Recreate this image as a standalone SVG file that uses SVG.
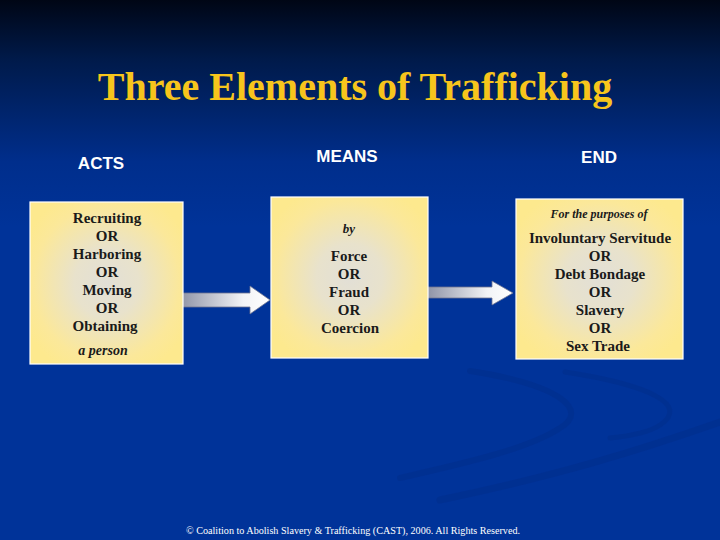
<svg xmlns="http://www.w3.org/2000/svg" width="720" height="540" viewBox="0 0 720 540">
<defs>
<linearGradient id="bg" x1="0" y1="0" x2="0" y2="1">
<stop offset="0" stop-color="#000615"/>
<stop offset="0.11" stop-color="#001a4a"/>
<stop offset="0.3" stop-color="#002e8c"/>
<stop offset="0.42" stop-color="#003399"/>
<stop offset="1" stop-color="#003399"/>
</linearGradient>
<radialGradient id="box" cx="0.5" cy="0.5" r="0.6">
<stop offset="0" stop-color="#e2dfd6"/>
<stop offset="0.35" stop-color="#e8e2cc"/>
<stop offset="0.8" stop-color="#fbe89a"/>
<stop offset="1" stop-color="#fde98e"/>
</radialGradient>
<linearGradient id="arr" x1="0" y1="0" x2="1" y2="0">
<stop offset="0" stop-color="#8e93a6"/>
<stop offset="0.7" stop-color="#f2f3f6"/>
<stop offset="1" stop-color="#ffffff"/>
</linearGradient>
<style>
.box{fill:url(#box);stroke:#ffffff;stroke-width:1.2}
.serif{font-family:"Liberation Serif","Times New Roman","DejaVu Serif",serif}
.t{font-family:"Liberation Serif","Times New Roman","DejaVu Serif",serif;font-weight:bold;font-size:15px;fill:#1a1a1a;text-anchor:middle}
.i{font-family:"Liberation Serif","Times New Roman","DejaVu Serif",serif;font-weight:bold;font-style:italic;fill:#1a1a1a;text-anchor:middle}
.h{font-family:"Liberation Sans",Arial,sans-serif;font-weight:bold;font-size:17px;fill:#ffffff;text-anchor:middle}
.arrow{fill:url(#arr);stroke:#6f7590;stroke-width:0.8}
.sw{fill:none;stroke:#002b84;stroke-opacity:0.35;stroke-linecap:round}
</style>
</defs>
<rect width="720" height="540" fill="url(#bg)"/>
<g id="swooshes">
<path class="sw" stroke-width="6" d="M470 371 C 560 385, 590 410, 560 428 C 530 448, 470 462, 400 478"/>
<path class="sw" stroke-width="5" d="M565 372 C 650 385, 690 405, 660 425 C 650 432, 630 436, 610 438"/>
<path class="sw" stroke-width="7" d="M720 422 C 640 450, 560 475, 440 500"/>
</g>
<text class="serif" x="355" y="100" font-weight="bold" font-size="40" fill="#f7c51c" text-anchor="middle">Three Elements of Trafficking</text>
<text class="h" x="101" y="169">ACTS</text>
<text class="h" x="347" y="162">MEANS</text>
<text class="h" x="599" y="163">END</text>
<g id="connectors">
<path class="arrow" d="M180 293 H250 V286 L270 300 L250 314 V307 H180 Z"/>
<path class="arrow" d="M427 287 H492 V281 L513 293 L492 305 V298 H427 Z"/>
</g>
<g id="acts">
<rect class="box" x="30" y="202" width="153" height="162"/>
<text class="t" x="107" y="223">Recruiting</text>
<text class="t" x="107" y="241">OR</text>
<text class="t" x="107" y="259">Harboring</text>
<text class="t" x="107" y="277">OR</text>
<text class="t" x="107" y="295">Moving</text>
<text class="t" x="107" y="313">OR</text>
<text class="t" x="105" y="331">Obtaining</text>
<text class="i" x="103" y="355" font-size="14">a person</text>
</g>
<g id="means">
<rect class="box" x="271" y="197" width="157" height="161"/>
<text class="i" x="349" y="233" font-size="13">by</text>
<text class="t" x="349" y="261">Force</text>
<text class="t" x="349" y="279">OR</text>
<text class="t" x="349" y="297">Fraud</text>
<text class="t" x="349" y="315">OR</text>
<text class="t" x="350" y="333">Coercion</text>
</g>
<g id="end">
<rect class="box" x="516" y="199" width="167" height="160"/>
<text class="i" x="599" y="218" font-size="12">For the purposes of</text>
<text class="t" x="600" y="243">Involuntary Servitude</text>
<text class="t" x="600" y="261">OR</text>
<text class="t" x="600" y="279">Debt Bondage</text>
<text class="t" x="600" y="297">OR</text>
<text class="t" x="600" y="315">Slavery</text>
<text class="t" x="600" y="333">OR</text>
<text class="t" x="598" y="351">Sex Trade</text>
</g>
<text class="serif" x="186" y="534" font-size="10" fill="#ffffff" textLength="334" lengthAdjust="spacingAndGlyphs">© Coalition to Abolish Slavery &amp; Trafficking (CAST), 2006.  All Rights Reserved.</text>
</svg>
